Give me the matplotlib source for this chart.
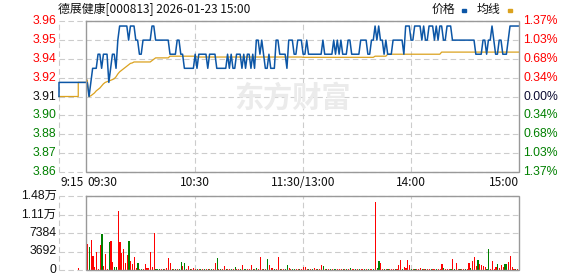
import matplotlib
matplotlib.use("Agg")
import matplotlib.pyplot as plt
from matplotlib.patches import Rectangle
from matplotlib.transforms import blended_transform_factory

# ---------------- data ----------------
title = "德展健康[000813] 2026-01-23 15:00"
prev_close = 3.91
max_pct = 1.37
price_labels = ["3.96", "3.95", "3.94", "3.92", "3.91", "3.90", "3.88", "3.87", "3.86"]
pct_labels = ["1.37%", "1.03%", "0.68%", "0.34%", "0.00%", "0.34%", "0.68%", "1.03%", "1.37%"]
vol_labels = ["1.48万", "1.11万", "7384", "3692", "0"]
vol_max = 14768
time_labels = ["9:15", "09:30", "10:30", "11:30/13:00", "14:00", "15:00"]
time_ticks = [-15.7, 0, 60, 120, 180, 240]

# pre-market (9:15-9:30) auction
pre_minutes = [-15.7, -15.7, 0]
pre_price = [3.91, 3.92, 3.92]
pre_avg_minutes = [-15.7, -5, -5, 0]
pre_avg = [3.91, 3.91, 3.92, 3.92]
pre_vol_minute = [-5]
pre_vol = [300]

# one value per minute, 09:30 .. 15:00 (241 points)
price = [
    3.92, 3.91, 3.92, 3.93, 3.93, 3.93, 3.94, 3.94, 3.93, 3.94,
    3.94, 3.94, 3.92, 3.93, 3.94, 3.94, 3.93, 3.95, 3.96, 3.96,
    3.96, 3.96, 3.96, 3.95, 3.96, 3.96, 3.96, 3.95, 3.95, 3.94,
    3.94, 3.95, 3.95, 3.95, 3.95, 3.95, 3.96, 3.96, 3.95, 3.95,
    3.95, 3.95, 3.95, 3.95, 3.95, 3.95, 3.94, 3.94, 3.94, 3.94,
    3.95, 3.95, 3.94, 3.94, 3.93, 3.93, 3.93, 3.93, 3.93, 3.93,
    3.94, 3.93, 3.94, 3.94, 3.94, 3.94, 3.94, 3.93, 3.94, 3.94,
    3.94, 3.94, 3.93, 3.93, 3.93, 3.93, 3.93, 3.93, 3.94, 3.93,
    3.94, 3.93, 3.93, 3.94, 3.94, 3.94, 3.93, 3.94, 3.93, 3.94,
    3.94, 3.93, 3.94, 3.93, 3.95, 3.95, 3.94, 3.95, 3.94, 3.93,
    3.93, 3.94, 3.93, 3.93, 3.93, 3.95, 3.95, 3.94, 3.94, 3.94,
    3.94, 3.93, 3.95, 3.95, 3.95, 3.94, 3.94, 3.95, 3.95, 3.95,
    3.94, 3.94, 3.95, 3.94, 3.94, 3.94, 3.94, 3.94, 3.94, 3.94,
    3.94, 3.95, 3.94, 3.94, 3.94, 3.94, 3.94, 3.95, 3.94, 3.95,
    3.94, 3.95, 3.94, 3.94, 3.94, 3.95, 3.95, 3.94, 3.94, 3.94,
    3.94, 3.94, 3.95, 3.95, 3.95, 3.95, 3.94, 3.94, 3.95, 3.95,
    3.96, 3.95, 3.96, 3.95, 3.95, 3.94, 3.95, 3.94, 3.94, 3.94,
    3.95, 3.95, 3.95, 3.95, 3.95, 3.95, 3.94, 3.96, 3.96, 3.96,
    3.95, 3.95, 3.96, 3.96, 3.96, 3.96, 3.95, 3.96, 3.95, 3.95,
    3.96, 3.96, 3.96, 3.95, 3.96, 3.95, 3.96, 3.96, 3.95, 3.95,
    3.96, 3.96, 3.96, 3.95, 3.95, 3.95, 3.95, 3.95, 3.95, 3.95,
    3.95, 3.95, 3.95, 3.95, 3.95, 3.95, 3.94, 3.94, 3.94, 3.94,
    3.95, 3.95, 3.94, 3.95, 3.95, 3.96, 3.95, 3.94, 3.94, 3.95,
    3.95, 3.94, 3.94, 3.94, 3.95, 3.96, 3.96, 3.96, 3.96, 3.96,
    3.96,
]

avg_price = [
    3.9217, 3.9100, 3.9105, 3.9115, 3.9125, 3.9140, 3.9150, 3.9160, 3.9175, 3.9190,
    3.9200, 3.9205, 3.9210, 3.9215, 3.9220, 3.9226, 3.9240, 3.9260, 3.9275, 3.9285,
    3.9295, 3.9305, 3.9315, 3.9325, 3.9335, 3.9338, 3.9345, 3.9345, 3.9345, 3.9345,
    3.9345, 3.9345, 3.9345, 3.9345, 3.9345, 3.9345, 3.9355, 3.9365, 3.9374, 3.9374,
    3.9374, 3.9374, 3.9374, 3.9374, 3.9374, 3.9374, 3.9386, 3.9386, 3.9386, 3.9386,
    3.9386, 3.9386, 3.9386, 3.9386, 3.9386, 3.9386, 3.9386, 3.9386, 3.9386, 3.9386,
    3.9386, 3.9380, 3.9380, 3.9380, 3.9380, 3.9380, 3.9380, 3.9380, 3.9380, 3.9380,
    3.9380, 3.9380, 3.9380, 3.9380, 3.9380, 3.9380, 3.9380, 3.9380, 3.9380, 3.9380,
    3.9380, 3.9380, 3.9380, 3.9380, 3.9380, 3.9380, 3.9380, 3.9380, 3.9380, 3.9380,
    3.9380, 3.9380, 3.9380, 3.9380, 3.9380, 3.9380, 3.9380, 3.9380, 3.9380, 3.9380,
    3.9380, 3.9380, 3.9380, 3.9380, 3.9380, 3.9380, 3.9380, 3.9380, 3.9380, 3.9380,
    3.9380, 3.9380, 3.9380, 3.9380, 3.9380, 3.9380, 3.9380, 3.9380, 3.9380, 3.9380,
    3.9378, 3.9378, 3.9378, 3.9378, 3.9378, 3.9378, 3.9378, 3.9378, 3.9378, 3.9378,
    3.9378, 3.9378, 3.9378, 3.9378, 3.9378, 3.9378, 3.9378, 3.9378, 3.9378, 3.9378,
    3.9378, 3.9378, 3.9378, 3.9378, 3.9378, 3.9378, 3.9378, 3.9378, 3.9378, 3.9378,
    3.9378, 3.9378, 3.9378, 3.9378, 3.9378, 3.9378, 3.9378, 3.9378, 3.9378, 3.9378,
    3.9386, 3.9386, 3.9386, 3.9386, 3.9386, 3.9386, 3.9386, 3.9400, 3.9400, 3.9400,
    3.9400, 3.9400, 3.9400, 3.9400, 3.9400, 3.9400, 3.9400, 3.9400, 3.9400, 3.9400,
    3.9400, 3.9400, 3.9400, 3.9400, 3.9400, 3.9400, 3.9400, 3.9400, 3.9400, 3.9400,
    3.9400, 3.9400, 3.9400, 3.9400, 3.9400, 3.9400, 3.9400, 3.9415, 3.9415, 3.9415,
    3.9415, 3.9415, 3.9415, 3.9415, 3.9415, 3.9415, 3.9415, 3.9415, 3.9415, 3.9415,
    3.9415, 3.9415, 3.9415, 3.9415, 3.9415, 3.9415, 3.9415, 3.9415, 3.9415, 3.9415,
    3.9415, 3.9415, 3.9415, 3.9415, 3.9415, 3.9415, 3.9415, 3.9415, 3.9415, 3.9415,
    3.9415, 3.9415, 3.9415, 3.9415, 3.9415, 3.9415, 3.9415, 3.9415, 3.9415, 3.9415,
    3.9415,
]

volume = [
    5187, 4522, 5985, 2793, 600, 3591, 200, 4988, 7182, 800,
    3192, 200, 5586, 5786, 1596, 600, 600, 11770, 5586, 3391,
    4190, 1400, 2993, 5786, 1800, 1200, 2593, 400, 1400, 200,
    200, 200, 1200, 400, 400, 3591, 600, 7382, 200, 200,
    200, 200, 200, 200, 400, 2394, 1400, 200, 200, 200,
    200, 200, 1600, 800, 1400, 200, 800, 200, 200, 400,
    200, 200, 200, 200, 200, 200, 200, 200, 200, 200,
    200, 1400, 2394, 200, 200, 200, 800, 200, 200, 200,
    200, 200, 600, 200, 200, 200, 1000, 200, 200, 200,
    200, 1000, 200, 200, 400, 200, 2593, 200, 200, 200,
    2194, 1000, 400, 400, 200, 200, 2593, 200, 200, 200,
    200, 1000, 400, 200, 200, 200, 200, 200, 200, 200,
    600, 600, 200, 200, 200, 200, 400, 200, 200, 200,
    1000, 800, 200, 200, 200, 200, 200, 200, 200, 200,
    200, 200, 200, 200, 200, 200, 400, 200, 200, 200,
    200, 200, 200, 200, 200, 200, 200, 200, 200, 200,
    13566, 400, 1800, 1400, 200, 200, 200, 200, 200, 200,
    200, 200, 200, 1000, 2000, 200, 600, 400, 2000, 1000,
    200, 200, 200, 200, 200, 400, 200, 200, 200, 200,
    200, 200, 200, 200, 200, 200, 200, 1200, 400, 200,
    200, 200, 200, 2194, 200, 1400, 200, 200, 200, 200,
    200, 200, 1400, 400, 1800, 2593, 800, 2000, 1200, 1000,
    800, 600, 200, 4190, 200, 1800, 200, 600, 1200, 400,
    1000, 600, 1200, 1200, 1600, 2793, 600, 200, 200, 200,
    3591,
]

vol_dir = (
    "rgrrrrrrgr" "rrgrrggrrr" "rrrgrrrrgr" "grrrrrrrgg" "grgrrrrgrg"
    "rggrgrrgrr" "rgrgrgrgrg" "rrgrgrrgrr" "grgrrgrggr" "rrgrgrrrgr"
    "grrrgrrgrr" "ggrrggrrgr" "rrrgrgrrgr" "rgrgrgrggr" "rrgrgrgrrg"
    "rgrrgrgrrg" "rggrrgrgrr" "rgrrrgrrrr" "grgrrrgrgr" "rgrrgrrrgr"
    "rrgrgrrgrr" "grrgrrrgrr" "rrggrrrrgr" "rrggrrrrgr" "r"
)

# ---------------- style ----------------
W, H = 578, 276
BLUE = "#0c56a6"
ORANGE = "#dba21e"
RED = "#ff0000"
GREEN = "#008000"
GRID = "#cccccc"
BORDER = "#999999"
NUMFONT = ["Liberation Sans", "Noto Sans CJK SC"]
CJK = ["Noto Sans CJK SC", "DejaVu Sans"]

fig = plt.figure(figsize=(W / 100, H / 100), dpi=100)
fig.patch.set_facecolor("white")


def fx(px):
    return px / W


def fy(py):
    return 1 - py / H


X_LEFT, X_OPEN, X_RIGHT = -15.7, -0.72, 240
ax = fig.add_axes([fx(59), fy(172), fx(519) - fx(59), fy(21) - fy(172)])
axv = fig.add_axes([fx(59), fy(270), fx(519) - fx(59), fy(196) - fy(270)])

lo = prev_close * (1 - max_pct / 100)
hi = prev_close * (1 + max_pct / 100)
nlev = len(price_labels)
price_ticks = [hi - i * (hi - lo) / (nlev - 1) for i in range(nlev)]
vol_ticks = [vol_max - i * vol_max / (len(vol_labels) - 1) for i in range(len(vol_labels))]

for a, ylo, yhi, yt in [(ax, lo, hi, price_ticks), (axv, 0, vol_max, vol_ticks)]:
    a.set_xlim(X_LEFT, X_RIGHT)
    a.set_ylim(ylo, yhi)
    for s in a.spines.values():
        s.set_visible(False)
    a.set_xticks([])
    a.set_yticks([])
    a.patch.set_alpha(0)
    for v in yt:
        a.plot([X_LEFT, X_RIGHT], [v, v], color=GRID, lw=0.8,
               ls=(0, (5, 3)), zorder=0, clip_on=False)
    for t in [X_LEFT, 60, 120, 180]:
        a.plot([t, t], [ylo, yhi], color=GRID, lw=0.8, ls=(0, (5, 3)),
               zorder=0, clip_on=False)
    # solid border of the continuous-trading box
    a.plot([X_OPEN, X_RIGHT, X_RIGHT, X_OPEN, X_OPEN],
           [yhi, yhi, ylo, ylo, yhi], color=BORDER, lw=1.0, zorder=5,
           clip_on=False, solid_joinstyle="miter")

# watermark
ax.text(fx(292), fy(98), "东方财富", transform=fig.transFigure, fontsize=21,
        family=CJK, fontweight="bold", color="#ebebeb", ha="center",
        va="center", zorder=0.5)

# price and average lines
minutes = list(range(len(price)))
ax.plot(pre_minutes + minutes, pre_price + price, color=BLUE, lw=1.1,
        zorder=3, clip_on=False)
ax.plot(pre_avg_minutes + minutes, pre_avg + avg_price, color=ORANGE,
        lw=0.9, zorder=2, clip_on=False)

# volume bars
cols = [RED if c == "r" else GREEN for c in vol_dir]
axv.bar([m + 0.2 for m in minutes], volume, width=0.6, color=cols,
        linewidth=0, zorder=3, clip_on=False)
axv.bar([m + 0.2 for m in pre_vol_minute], pre_vol, width=0.6, color=RED,
        linewidth=0, zorder=3)

# axis labels
tr_p = blended_transform_factory(fig.transFigure, ax.transData)
for i, (v, lab, plab) in enumerate(zip(price_ticks, price_labels, pct_labels)):
    if i < nlev // 2:
        c = RED
    elif i == nlev // 2:
        c = "#111111"
    else:
        c = GREEN
    ax.text(fx(56.5), v, lab, transform=tr_p, ha="right", va="center",
            fontsize=8.8, family=NUMFONT, color=c, clip_on=False)
    ax.text(fx(523), v, plab, transform=tr_p, ha="left", va="center",
            fontsize=8.8, family=NUMFONT, color=c if i != nlev // 2 else "#0a0a30",
            clip_on=False)

tr_v = blended_transform_factory(fig.transFigure, axv.transData)
for v, lab in zip(vol_ticks, vol_labels):
    axv.text(fx(56.5), v, lab, transform=tr_v, ha="right", va="center",
             fontsize=8.8, family=NUMFONT, color="#111111", clip_on=False)

tr_t = blended_transform_factory(ax.transData, fig.transFigure)
aligns = ["left", "left", "center", "center", "center", "right"]
for t, lab, al in zip(time_ticks, time_labels, aligns):
    x = X_OPEN if lab == "09:30" else t
    ax.text(x + (0.6 if al == "left" else 0), fy(182.5), lab, transform=tr_t,
            ha=al, va="center", fontsize=8.6, family=CJK, color="#111111",
            clip_on=False)

# title and legend
fig.text(fx(58), fy(9), title, ha="left", va="center", fontsize=8.6,
         family=CJK, color="#111111")
fig.text(fx(432), fy(9.5), "价格", ha="left", va="center", fontsize=8.6,
         family=CJK, color="#111111")
fig.text(fx(477), fy(9.5), "均线", ha="left", va="center", fontsize=8.6,
         family=CJK, color="#111111")
fig.add_artist(Rectangle((fx(462), fy(12)), 4 / W, 3 / H, color=BLUE,
                         transform=fig.transFigure))
fig.add_artist(Rectangle((fx(508), fy(12)), 4 / W, 3 / H, color=ORANGE,
                         transform=fig.transFigure))

fig.savefig("out.png", dpi=100, facecolor="white")
